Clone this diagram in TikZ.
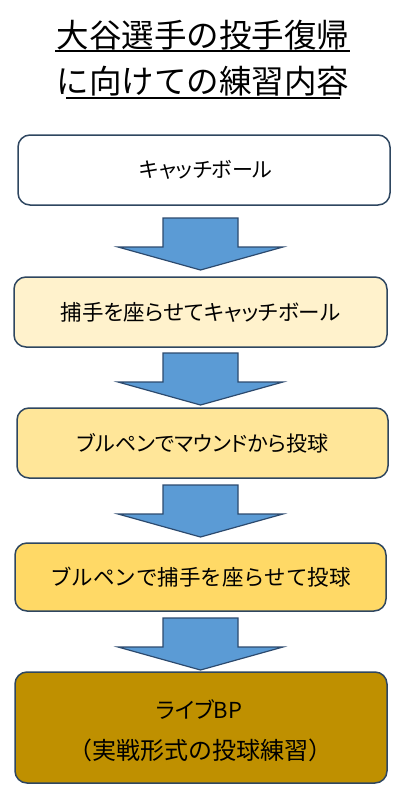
\documentclass[tikz,border=0pt]{standalone}
\usepackage{fontspec}
\setmainfont{Noto Sans CJK JP}
\newfontfamily\propfont[RawFeature=+palt]{Noto Sans CJK JP}
\definecolor{edge}{RGB}{46,70,96}
\definecolor{arrfill}{RGB}{91,155,213}
\definecolor{arredge}{RGB}{44,74,110}
\definecolor{fillA}{RGB}{255,255,255}
\definecolor{fillB}{RGB}{255,242,204}
\definecolor{fillC}{RGB}{255,230,153}
\definecolor{fillD}{RGB}{255,217,102}
\definecolor{fillE}{RGB}{191,144,0}
\tikzset{
  stepbox/.style={draw=edge, line width=1.5pt, rounded corners=12pt, inner sep=0pt},
  boxtext/.style={font=\propfont\fontsize{21}{26}\selectfont, align=center},
  boxtextw/.style={font=\fontsize{21.5}{26}\selectfont, align=center},
  titletext/.style={font=\fontsize{32.5}{40}\selectfont},
  downarrow/.style={draw=arredge, fill=arrfill, line width=1.2pt, line join=miter},
}
\newcommand{\downarr}[2]{% #1 top y, #2 name
  \draw[downarrow] (163,#1) -- (238,#1) -- (238,#1+29) -- (283,#1+29) -- (200.5,#1+52) -- (118,#1+29) -- (163,#1+29) -- cycle;
}
\begin{document}
\begin{tikzpicture}[x=1pt,y=-1pt]
\useasboundingbox (0,0) rectangle (406,793);
% title
\node[titletext, anchor=base] (t1) at (203,47) {大谷選手の投手復帰};
\node[titletext, anchor=base] (t2) at (203,93) {に向けての練習内容};
\draw[line width=1.3pt] (55,51) -- (350,51);
\draw[line width=1.3pt] (66,98) -- (340,98);
% boxes
\draw[stepbox, fill=fillA] (18,135) rectangle (390,205);
\node[boxtext] (b1) at (206,170) {キャッチボール};
\draw[stepbox, fill=fillB] (14,277) rectangle (387,347);
\node[boxtext, font=\propfont\fontsize{21.5}{26}\selectfont] (b2) at (200.5,312) {捕手を座らせてキャッチボール};
\draw[stepbox, fill=fillC] (17,408) rectangle (388,478);
\node[boxtext] (b3) at (202.5,443) {ブルペンでマウンドから投球};
\draw[stepbox, fill=fillD] (15,543) rectangle (386,611);
\node[boxtextw] (b4) at (200.5,577) {ブルペンで捕手を座らせて投球};
\draw[stepbox, fill=fillE] (15,672) rectangle (387,783);
\node[boxtext, font=\propfont\fontsize{22}{26}\selectfont] (b5a) at (199,710) {ライブBP};
\node[boxtextw, font=\fontsize{24}{28}\selectfont] (b5b) at (200.5,750) {（実戦形式の投球練習）};
% arrows
\downarr{218}{a1}
\downarr{353}{a2}
\downarr{485}{a3}
\downarr{618}{a4}
\end{tikzpicture}
\end{document}
